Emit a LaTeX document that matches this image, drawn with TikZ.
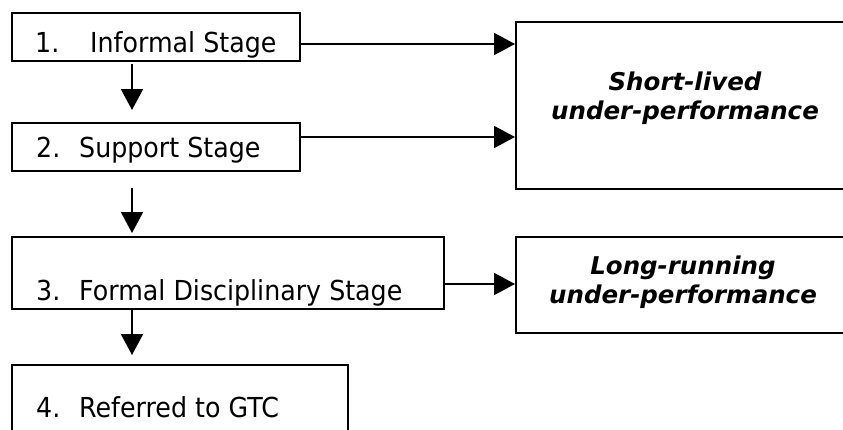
\documentclass[tikz,border=0pt]{standalone}
\usepackage{fontspec}
\usetikzlibrary{arrows.meta,calc}
\newfontfamily\stagefont{DejaVu Sans}[FakeStretch=0.92]
\newfontfamily\notefont{DejaVu Sans}
\begin{document}
\begin{tikzpicture}[x=1pt,y=-1pt,
  boxshape/.style={draw=black, line width=1.9pt, rectangle, inner sep=0pt, anchor=north west},
  stagetext/.style={anchor=base west, inner sep=0pt, font=\stagefont\fontsize{27.5}{33}\selectfont},
  notetext/.style={anchor=base, inner sep=0pt, align=center,
    font=\notefont\bfseries\itshape\fontsize{24.5}{28.5}\selectfont},
  arr/.style={line width=1.9pt, -{Triangle[length=21pt,width=22pt]}}]
\useasboundingbox (0,0) rectangle (843,429);
\clip (0,0) rectangle (843,429);

% stage boxes
\node[boxshape, minimum width=288pt, minimum height=48pt] (s1) at (11,12) {};
\node[boxshape, minimum width=288pt, minimum height=48pt] (s2) at (11,122) {};
\node[boxshape, minimum width=432pt, minimum height=72pt] (s3) at (11,236) {};
\node[boxshape, minimum width=336pt, minimum height=100pt] (s4) at (11,364) {};

% outcome boxes (running off the right edge)
\node[boxshape, minimum width=360pt, minimum height=167pt] (sl) at (515,21) {};
\node[boxshape, minimum width=360pt, minimum height=96pt] (lr) at (515,236) {};

% labels (the note nodes sit on the baseline of their last line)
\node[stagetext] (t1) at (35,52) {\makebox[55pt][l]{1.}Informal Stage};
\node[stagetext] (t2) at (36,157) {\makebox[43pt][l]{2.}Support Stage};
\node[stagetext] (t3) at (36,300) {\makebox[43pt][l]{3.}Formal Disciplinary Stage};
\node[stagetext] (t4) at (36,417) {\makebox[43pt][l]{4.}Referred to GTC};
\node[notetext] (n1) at (685,119) {Short-lived\\under-performance};
\node[notetext] (n2) at (683,303) {Long-running\\under-performance};

% downward flow
\draw[arr, shorten <=2pt, shorten >=12pt] ($(s1.south west)+(121,0)$) -- ($(s2.north west)+(121,0)$);
\draw[arr, shorten <=16pt, shorten >=3pt] ($(s2.south west)+(121,0)$) -- ($(s3.north west)+(121,0)$);
\draw[arr, shorten >=9pt] ($(s3.south west)+(121,0)$) -- ($(s4.north west)+(121,0)$);

% sideways flow
\draw[arr] ($(s1.north east)+(0,32)$) -- ($(s1.north east -| sl.west)+(0,32)$);
\draw[arr] ($(s2.north east)+(0,15)$) -- ($(s2.north east -| sl.west)+(0,15)$);
\draw[arr] ($(s3.north east)+(0,48)$) -- ($(s3.north east -| lr.west)+(0,48)$);
\end{tikzpicture}
\end{document}
